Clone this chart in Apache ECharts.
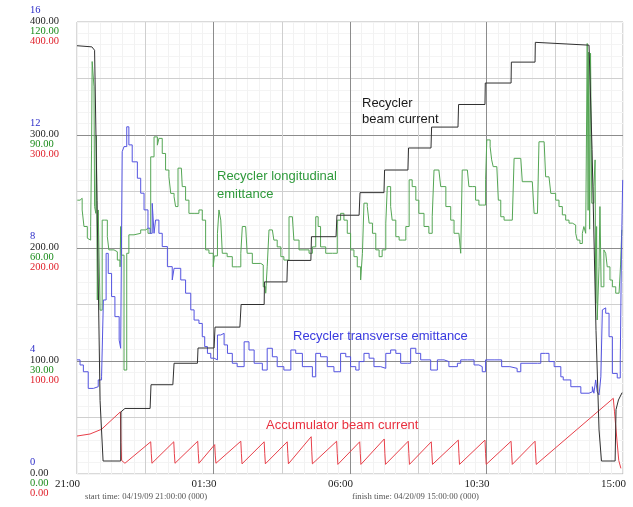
<!DOCTYPE html>
<html>
<head>
<meta charset="utf-8">
<script src="https://cdn.jsdelivr.net/npm/echarts@6/dist/echarts.min.js"></script>
<style>
  html, body { margin: 0; padding: 0; background: #fff; }
  #chart { width: 633px; height: 507px; }
</style>
</head>
<body>
<div id="chart"></div>
<script>
// Time is in hours after 21:00 on 04/19/09; the plot spans 18 hours.
const timeTickLabels = ['21:00', '01:30', '06:00', '10:30', '15:00'];

// Stacked tick labels for the four scales that share the vertical axis.
const blueTickLabels  = ['0', '4', '8', '12', '16'];
const blackTickLabels = ['0.00', '100.00', '200.00', '300.00', '400.00'];
const greenTickLabels = ['0.00', '30.00', '60.00', '90.00', '120.00'];
const redTickLabels   = ['0.00', '100.00', '200.00', '300.00', '400.00'];

// Recycler beam current (0–400 scale)
const recyclerBeamCurrent = [
  [0.00,379],[0.49,378],[0.58,375],[0.66,242],[0.76,65],[0.86,11.5],[1.44,11.5],[1.45,55],[1.58,58],
  [2.41,58],[2.44,79],[3.16,79],[3.20,98],[3.97,98],[3.99,111.5],[4.52,111.5],[4.55,130],
  [5.37,130],[5.41,150],[6.17,150],[6.18,170],[6.92,170],[6.94,189],[7.71,189],[7.73,210],
  [8.54,210],[8.57,229],[9.30,229],[9.33,249],[10.12,249],[10.14,269],[10.91,269],[10.93,288.5],
  [11.67,288.5],[11.69,307],[12.56,307],[12.58,327],[13.45,327],[13.46,346],[14.31,346],
  [14.32,364.5],[15.10,364.5],[15.11,382],[16.88,379.5],[16.98,287],[17.11,127],[17.21,39],
  [17.29,11.5],[17.74,11.5],[17.77,57],[17.85,65.5],[17.97,72]
];

// Accumulator beam current (0–400 scale)
const accumulatorBeamCurrent = [
  [0.00,33.6],[0.43,35.4],[0.81,39.6],[1.43,55.0],[1.45,28],[1.47,12.0],[1.58,9.5],
  [2.43,28.5],[2.45,18],[2.47,9.5],
  [3.19,28.5],[3.21,18],[3.23,9.5],
  [3.98,29],[4.00,18],[4.02,9.5],
  [4.54,26],[4.56,16],[4.58,9.5],
  [5.40,29],[5.42,18],[5.44,9],
  [6.17,28.5],[6.19,18],[6.21,9],
  [6.93,28.5],[6.95,18],[6.97,9],
  [7.72,33],[7.74,20],[7.76,9],
  [8.56,29],[8.58,18],[8.60,8.5],
  [9.32,28.5],[9.34,18],[9.36,8.5],
  [10.13,31],[10.15,18],[10.17,8.5],
  [10.92,29],[10.94,18],[10.96,8.5],
  [11.68,28.5],[11.70,18],[11.72,8.5],
  [12.57,30],[12.59,18],[12.61,8.5],
  [13.45,30],[13.47,18],[13.49,8.5],
  [14.31,29],[14.33,18],[14.35,8.5],
  [15.10,29],[15.12,18],[15.14,8.5],
  [17.68,67],[17.72,55],[17.80,30],[17.86,12],[17.93,5]
];

// Recycler longitudinal emittance (0–120 scale), sampled and held
const longitudinalEmittance = [
  [0.01,72.7],[0.10,73.2],[0.17,70.1],[0.23,65.7],[0.34,62.6],[0.40,62.1],[0.45,65.7],[0.48,86.0],
  [0.50,109.5],[0.56,102.8],[0.58,71.0],[0.62,69.2],[0.64,90.0],[0.67,46.2],[0.70,70.1],[0.76,43.5],
  [0.83,67.4],[0.91,67.4],[1.00,63.0],[1.05,59.5],[1.22,59.0],[1.33,56.8],[1.42,55.0],[1.44,65.7],
  [1.46,58.1],[1.55,27.6],[1.64,58.6],[1.71,63.5],[1.88,63.9],[2.10,64.8],[2.26,65.2],[2.34,63.9],
  [2.43,84.2],[2.54,89.5],[2.65,87.3],[2.70,89.1],[2.81,85.1],[2.92,80.7],[3.03,78.9],[3.09,74.5],
  [3.20,73.6],[3.25,71.0],[3.33,81.2],[3.44,81.2],[3.47,76.3],[3.58,72.7],[3.69,69.2],[3.86,69.2],
  [4.02,70.1],[4.13,67.4],[4.24,59.5],[4.35,58.6],[4.49,55.0],[4.53,57.9],[4.63,63.9],[4.68,70.1],
  [4.74,67.4],[4.79,58.6],[4.95,57.7],[5.12,55.0],[5.28,55.0],[5.40,58.6],[5.45,65.7],[5.56,65.7],
  [5.61,58.6],[5.78,55.9],[6.06,55.5],[6.14,49.7],[6.22,48.0],[6.27,55.0],[6.33,64.8],[6.44,64.8],
  [6.49,62.1],[6.60,60.3],[6.72,57.7],[6.82,56.8],[6.99,68.3],[7.10,68.3],[7.15,62.1],[7.32,59.5],
  [7.65,58.6],[7.76,60.3],[7.87,68.3],[7.95,65.7],[8.03,60.3],[8.20,58.6],[8.42,58.6],[8.58,67.4],
  [8.69,69.2],[8.80,67.4],[8.91,63.9],[9.02,59.5],[9.13,57.7],[9.24,55.0],[9.35,51.5],[9.41,58.6],
  [9.46,71.9],[9.57,71.0],[9.63,66.6],[9.74,63.9],[9.85,59.5],[9.96,57.7],[10.06,59.5],[10.18,66.6],
  [10.23,76.3],[10.34,71.0],[10.39,67.4],[10.51,63.0],[10.62,62.1],[10.72,62.1],[10.84,65.7],
  [10.95,78.1],[11.05,76.3],[11.17,72.7],[11.27,69.2],[11.44,65.7],[11.60,63.9],[11.71,68.3],
  [11.77,80.7],[11.93,80.7],[11.99,76.3],[12.16,71.0],[12.32,67.4],[12.43,63.9],[12.59,63.9],
  [12.65,58.6],[12.70,80.7],[12.87,80.7],[12.92,76.3],[13.03,76.3],[13.14,72.7],[13.25,71.4],
  [13.36,71.4],[13.47,78.1],[13.51,88.7],[13.62,86.9],[13.67,83.4],[13.72,81.6],[13.84,81.6],
  [13.89,72.7],[13.97,68.3],[14.08,67.4],[14.35,67.0],[14.41,83.8],[14.63,83.8],[14.68,77.6],
  [15.01,77.2],[15.07,69.2],[15.18,69.2],[15.23,88.2],[15.40,88.2],[15.45,78.9],[15.56,78.9],
  [15.62,74.5],[15.78,72.7],[15.89,71.0],[16.00,68.8],[16.11,67.4],[16.22,66.6],[16.33,66.1],
  [16.44,63.9],[16.49,62.1],[16.58,61.2],[16.66,63.9],[16.71,65.7],[16.77,63.9],[16.82,114.3],
  [16.85,70],[16.87,112],[16.90,65],[16.93,111.7],[16.97,71.9],[17.04,76.3],[17.08,83.4],
  [17.10,45.3],[17.13,65.7],[17.15,40.9],[17.21,55.0],[17.24,71.0],[17.26,71.0],[17.28,49.7],
  [17.34,49.7],[17.37,59.5],[17.43,58.6],[17.48,55.0],[17.57,51.5],[17.65,49.7],[17.76,48.0],
  [17.87,48.0],[17.92,55.5],[17.96,64.8]
];

// Recycler transverse emittance (0–16 scale), sampled and held
const transverseEmittance = [
  [0.00,4.04],[0.10,3.86],[0.21,3.62],[0.37,3.03],[0.54,3.09],[0.70,3.33],[0.81,3.44],[0.87,6.16],
  [0.96,7.81],[1.03,7.10],[1.14,6.28],[1.25,5.57],[1.39,4.74],[1.44,4.45],[1.49,11.41],[1.55,11.59],
  [1.64,12.29],[1.71,11.65],[1.82,11.05],[1.99,10.47],[2.10,9.94],[2.21,9.35],[2.34,8.70],[2.41,8.52],
  [2.48,9.58],[2.54,8.52],[2.59,8.99],[2.70,8.52],[2.81,8.05],[2.98,7.34],[3.14,6.87],[3.20,7.28],
  [3.42,6.87],[3.58,6.40],[3.75,5.81],[3.86,5.45],[4.02,5.33],[4.13,4.86],[4.21,4.51],[4.30,4.27],
  [4.41,4.10],[4.52,4.04],[4.63,4.92],[4.74,4.98],[4.85,4.57],[4.96,4.27],[5.12,3.92],[5.28,3.80],
  [5.51,4.68],[5.67,4.39],[5.84,3.92],[6.11,3.68],[6.27,4.45],[6.44,4.15],[6.60,3.80],[6.82,3.68],
  [7.05,4.39],[7.21,4.27],[7.43,3.80],[7.76,3.44],[7.87,4.27],[8.03,4.15],[8.25,3.80],[8.47,3.62],
  [8.69,4.27],[8.86,4.15],[9.02,3.80],[9.19,3.68],[9.30,3.98],[9.46,4.27],[9.63,4.10],[9.79,3.80],
  [10.01,3.74],[10.18,4.27],[10.34,4.39],[10.51,4.27],[10.67,3.92],[10.89,3.92],[11.00,4.45],
  [11.17,4.27],[11.33,4.04],[11.66,3.68],[11.88,4.04],[12.10,3.98],[12.26,3.80],[12.54,3.92],
  [12.65,4.04],[12.87,4.04],[13.09,3.86],[13.25,3.80],[13.36,3.62],[13.47,4.04],[13.75,4.04],
  [14.00,3.80],[14.27,3.74],[14.51,3.62],[14.63,3.92],[15.18,3.92],[15.29,4.27],[15.45,4.27],
  [15.56,3.98],[15.73,3.80],[15.95,3.44],[16.03,3.33],[16.28,3.09],[16.61,2.86],[16.88,2.91],
  [16.99,3.09],[17.04,2.86],[17.10,3.33],[17.15,2.91],[17.21,2.80],[17.27,3.44],[17.32,5.81],
  [17.36,5.88],[17.43,5.69],[17.54,4.86],[17.65,3.56],[17.81,3.40],[17.91,4.04],[17.95,7.93],
  [17.99,10.41]
];

const serif = '"Liberation Serif", "DejaVu Serif", serif';
const sans = '"Liberation Sans", Arial, sans-serif';

const chart = echarts.init(document.getElementById('chart'), null, { renderer: 'canvas' });

function lineSeries(name, data, yAxisIndex, color, step) {
  return {
    name, type: 'line', data, yAxisIndex, xAxisIndex: 0, step: step || false,
    showSymbol: false, symbol: 'none', animation: false,
    lineStyle: { color, width: 1 }, silent: true
  };
}

chart.setOption({
  backgroundColor: '#ffffff',
  animation: false,
  grid: { left: 77, right: 10, top: 22, bottom: 33, show: true, borderColor: '#b4b4b4', borderWidth: 1, backgroundColor: 'transparent' },
  xAxis: [
    {
      type: 'value', min: 0, max: 18, interval: 4.5, z: 1,
      axisLine: { show: false }, axisTick: { show: false },
      axisLabel: {
        show: true, align: 'right', margin: 5, padding: [0, -3, 0, 0],
        fontFamily: serif, fontSize: 11, color: '#222',
        formatter: v => timeTickLabels[Math.round(v / 4.5)]
      },
      splitLine: { show: true, showMinLine: false, showMaxLine: false, lineStyle: { color: '#8c8c8c', width: 1 } },
      minorTick: { show: false, splitNumber: 2 },
      minorSplitLine: { show: true, lineStyle: { color: '#cfcfcf', width: 1 } }
    },
    {
      type: 'value', min: 0, max: 18, interval: 0.375, z: 0,
      axisLine: { show: false }, axisTick: { show: false }, axisLabel: { show: false },
      splitLine: { show: true, lineStyle: { color: '#f2f2f2', width: 1 } }
    }
  ],
  yAxis: [
    {
      type: 'value', min: 0, max: 400, interval: 100, z: 1,
      axisLine: { show: false }, axisTick: { show: false },
      axisLabel: {
        show: true, align: 'left', margin: 47, padding: [8, 0, 0, 0],
        formatter: v => {
          const i = Math.round(v / 100);
          return '{b|' + blueTickLabels[i] + '}\n{k|' + blackTickLabels[i] + '}\n{g|' +
                 greenTickLabels[i] + '}\n{r|' + redTickLabels[i] + '}';
        },
        rich: {
          b: { color: '#2b2bc8', fontFamily: serif, fontSize: 10.5, lineHeight: 10.3 },
          k: { color: '#1e1e1e', fontFamily: serif, fontSize: 10.5, lineHeight: 10.3 },
          g: { color: '#1b8c1b', fontFamily: serif, fontSize: 10.5, lineHeight: 10.3 },
          r: { color: '#e0202a', fontFamily: serif, fontSize: 10.5, lineHeight: 10.3 }
        }
      },
      splitLine: { show: true, showMinLine: false, showMaxLine: false, lineStyle: { color: '#8c8c8c', width: 1 } },
      minorTick: { show: false, splitNumber: 2 },
      minorSplitLine: { show: true, lineStyle: { color: '#cfcfcf', width: 1 } }
    },
    {
      type: 'value', min: 0, max: 400, interval: 10, z: 0,
      axisLine: { show: false }, axisTick: { show: false }, axisLabel: { show: false },
      splitLine: { show: true, lineStyle: { color: '#f4f4f4', width: 1 } }
    },
    { type: 'value', min: 0, max: 120, show: false, splitLine: { show: false } },
    { type: 'value', min: 0, max: 16, show: false, splitLine: { show: false } }
  ],
  series: [
    lineSeries('Recycler longitudinal emittance', longitudinalEmittance, 2, '#55a655', 'end'),
    lineSeries('Recycler transverse emittance', transverseEmittance, 3, '#5454e0', 'end'),
    lineSeries('Accumulator beam current', accumulatorBeamCurrent, 0, '#e8404a'),
    lineSeries('Recycler beam current', recyclerBeamCurrent, 0, '#303030')
  ],
  graphic: [
    { type: 'text', left: 362, top: 95, silent: true, z: 10,
      style: { text: 'Recycler\nbeam current', fill: '#1a1a1a', font: '13px ' + sans, lineHeight: 16 } },
    { type: 'text', left: 217, top: 167, silent: true, z: 10,
      style: { text: 'Recycler longitudinal\nemittance', fill: '#2f9a3c', font: '13px ' + sans, lineHeight: 18 } },
    { type: 'text', left: 293, top: 330, silent: true, z: 10,
      style: { text: 'Recycler transverse emittance', fill: '#3a3ae0', font: '13px ' + sans } },
    { type: 'text', left: 266, top: 419, silent: true, z: 10,
      style: { text: 'Accumulator beam current', fill: '#e8303f', font: '13px ' + sans } },
    { type: 'text', left: 85, top: 492, silent: true,
      style: { text: 'start time: 04/19/09 21:00:00 (000)', fill: '#555', font: '8.7px ' + serif } },
    { type: 'text', left: 352, top: 492, silent: true,
      style: { text: 'finish time: 04/20/09 15:00:00 (000)', fill: '#555', font: '8.7px ' + serif } }
  ]
});
</script>
</body>
</html>
